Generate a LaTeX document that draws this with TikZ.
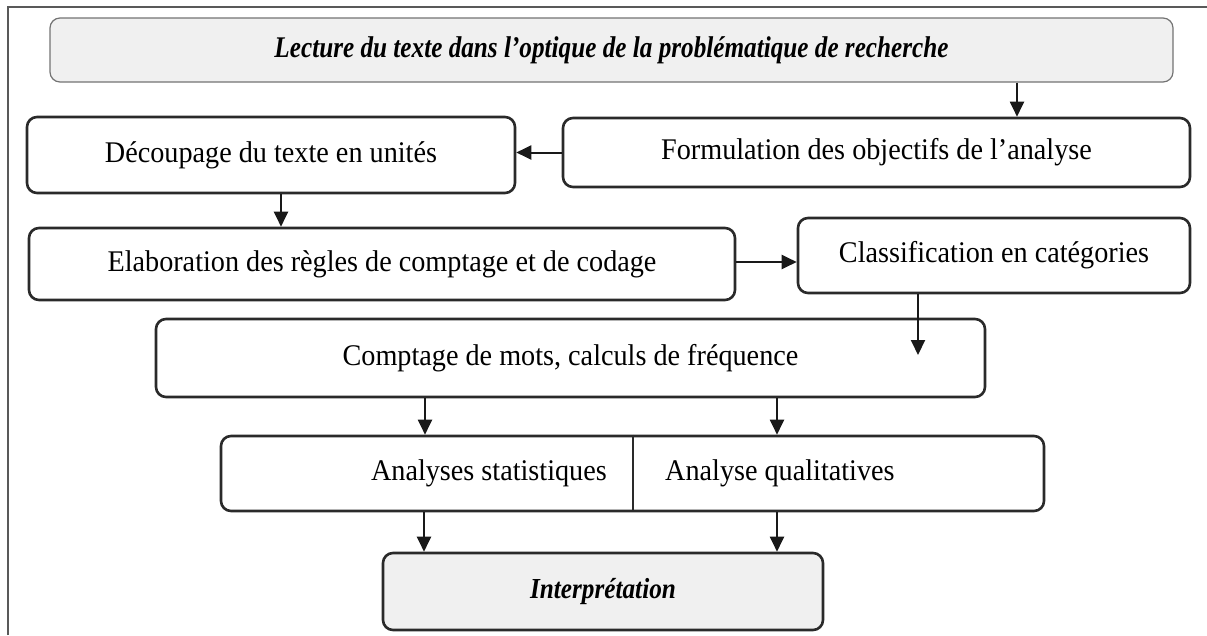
\documentclass[tikz,border=0pt]{standalone}
\usepackage{fontspec}
\setmainfont{Liberation Serif}
\newfontfamily\bodyfont[FakeStretch=0.94]{Liberation Serif}
\newfontfamily\headfont[FakeStretch=0.84]{Liberation Serif}
\newfontfamily\endfont[FakeStretch=0.87]{Liberation Serif}
\usetikzlibrary{arrows.meta}
\definecolor{boxgray}{HTML}{F0F0F0}
\definecolor{edge}{HTML}{2A2A2A}
\tikzset{
  stepbox/.style={draw=edge, line width=2.6pt, rounded corners=10pt, fill=white,
    inner sep=0pt, font=\bodyfont\fontsize{30}{32}\selectfont},
  headbox/.style={draw=black!55, line width=1.2pt, rounded corners=10pt, fill=boxgray,
    inner sep=0pt, font=\headfont\fontsize{30}{32}\selectfont\bfseries\itshape},
  endbox/.style={stepbox, fill=boxgray, font=\endfont\fontsize{29}{32}\selectfont\bfseries\itshape},
  txt/.style={inner sep=0pt, font=\bodyfont\fontsize{30}{32}\selectfont},
  arr/.style={-{Triangle[length=15pt,width=14pt]}, line width=2pt, draw=black!90},
}
\begin{document}
\begin{tikzpicture}[x=1pt, y=-1pt]
\useasboundingbox (0,0) rectangle (1207,635);
% page frame
\draw[line width=1.5pt, black!65] (8,635) -- (8,7) -- (1207,7);

% boxes
\node[headbox, minimum width=1123pt, minimum height=64pt] (lect) at (611.5,50)
  {Lecture du texte dans l’optique de la problématique de recherche};
\node[stepbox, minimum width=627pt, minimum height=69pt] (form) at (876.5,152.5)
  {Formulation des objectifs de l’analyse};
\node[stepbox, minimum width=488pt, minimum height=76pt] (dec) at (271,155)
  {Découpage du texte en unités};
\node[stepbox, minimum width=706pt, minimum height=72pt] (elab) at (382,264)
  {Elaboration des règles de comptage et de codage};
\node[stepbox, minimum width=392pt, minimum height=75pt] (class) at (994,255.5)
  {Classification en catégories};
\node[stepbox, minimum width=829pt, minimum height=78pt] (compt) at (570.5,358)
  {Comptage de mots, calculs de fréquence};
\node[stepbox, minimum width=823pt, minimum height=75pt] (anal) at (632.5,473.5) {};
\draw[line width=2pt, draw=edge] (anal.north) -- (anal.south);
\node[txt, anchor=east] (stat) at (607,473.5) {Analyses statistiques};
\node[txt, anchor=west] (qual) at (665,473.5) {Analyse qualitatives};
\node[endbox, minimum width=440pt, minimum height=77pt] (interp) at (603,591.5)
  {Interprétation};

% connectors
\coordinate (cend) at (918,355);
\draw[arr] (lect.south -| 1017,0) -- (form.north -| 1017,0);
\draw[arr] (form.west) -- (form.west -| dec.east);
\draw[arr] (dec.south -| 281,0) -- (elab.north -| 281,0);
\draw[arr] (elab.east |- 0,262) -- (class.west |- 0,262);
\draw[arr] (class.south -| cend) -- (cend);
\draw[arr] (compt.south -| 425,0) -- (anal.north -| 425,0);
\draw[arr] (compt.south -| 777,0) -- (anal.north -| 777,0);
\draw[arr] (anal.south -| 424,0) -- (interp.north -| 424,0);
\draw[arr] (anal.south -| 777,0) -- (interp.north -| 777,0);
\end{tikzpicture}
\end{document}
